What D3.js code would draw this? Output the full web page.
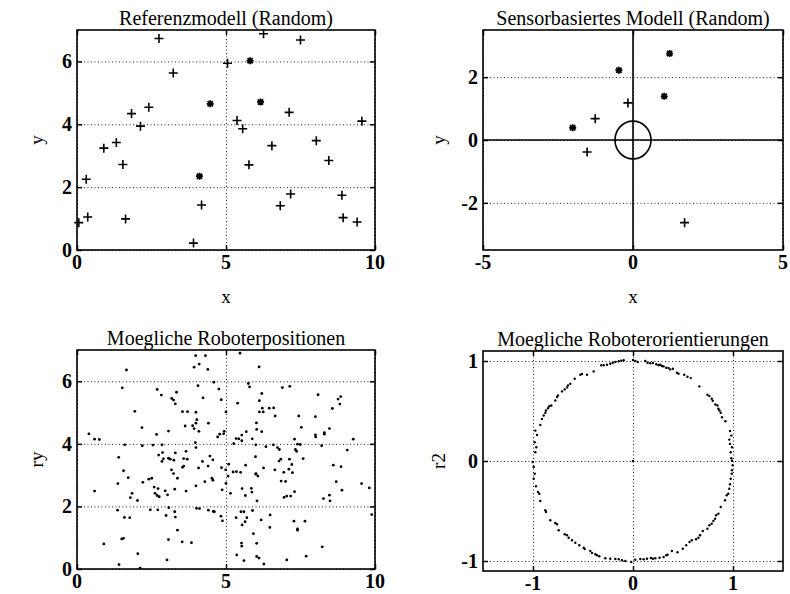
<!DOCTYPE html>
<html>
<head>
<meta charset="utf-8">
<script src="https://cdn.jsdelivr.net/npm/d3@7"></script>
<style>
  body { margin: 0; background: #fff; }
  svg { display: block; font-family: 'Liberation Serif', 'Times New Roman', serif; }
  .tick-label { font-size: 20px; font-weight: bold; }
  .title { font-size: 20px; }
  .axis-label { font-size: 19px; }
</style>
</head>
<body>
<svg id="chart" width="790" height="594"></svg>
<script>
// Referenzmodell: landmarks (+) and matched landmarks (*)
const refPlus = [
  [0.06, 0.87], [0.31, 2.25], [0.36, 1.05], [0.9, 3.24], [1.32, 3.42], [1.54, 2.72],
  [1.63, 0.99], [1.83, 4.34], [2.13, 3.94], [2.41, 4.54], [2.75, 6.73], [3.23, 5.63],
  [3.91, 0.22], [4.18, 1.43], [5.05, 5.94], [5.37, 4.12], [5.56, 3.86], [5.77, 2.71],
  [6.26, 6.88], [6.54, 3.32], [6.82, 1.41], [7.12, 4.38], [7.17, 1.78], [7.5, 6.68],
  [8.03, 3.48], [8.45, 2.85], [8.89, 1.74], [8.93, 1.03], [9.4, 0.89], [9.56, 4.1]
];
const refStar = [[4.11, 2.35], [4.47, 4.65], [5.81, 6.02], [6.16, 4.71]];

// Sensorbasiertes Modell
const sensPlus = [[-0.17, 1.18], [-1.26, 0.68], [-1.53, -0.38], [1.72, -2.63]];
const sensStar = [[1.22, 2.75], [-0.47, 2.22], [1.04, 1.39], [-2.01, 0.39]];
const robotRadius = 0.6;

// Moegliche Roboterpositionen (rx, ry)
const positions = [
  [3.98, 6.82], [4.31, 6.82], [5.47, 6.9], [3.93, 6.45], [4.1, 6.55], [4.39, 6.38],
  [1.66, 6.36], [6.11, 6.46], [1.52, 5.79], [2.69, 5.74], [2.83, 5.56], [3.34, 5.65],
  [3.18, 5.45], [3.24, 5.4], [3.3, 5.28], [4.06, 5.86], [4.59, 5.97], [4.76, 5.75],
  [5.75, 5.93], [5.79, 5.82], [6.89, 5.8], [7.14, 5.84], [4.23, 5.47], [4.84, 5.41],
  [5.39, 5.3], [6.2, 5.61], [6.12, 5.38], [6.22, 5.14], [6.45, 5.14], [6.6, 5.15],
  [6.65, 4.89], [6.12, 5.02], [6.25, 5.02], [1.94, 5.04], [3.54, 5.03], [3.71, 5.03],
  [3.99, 5.01], [5.0, 5.02], [7.44, 4.89], [7.53, 4.53], [8.0, 4.87], [8.09, 5.57],
  [8.57, 5.13], [8.76, 5.43], [8.82, 5.27], [8.85, 5.51], [2.18, 4.52], [2.67, 4.3],
  [3.07, 4.41], [3.63, 4.57], [3.88, 4.58], [3.93, 4.49], [4.02, 4.77], [3.99, 4.66],
  [4.41, 4.66], [4.09, 4.4], [4.92, 4.32], [4.94, 4.4], [4.72, 4.22], [6.02, 4.67],
  [6.03, 4.46], [6.2, 4.39], [5.68, 4.39], [5.43, 4.16], [5.53, 4.1], [5.53, 4.28],
  [5.34, 4.17], [5.88, 4.16], [6.0, 3.97], [6.34, 3.91], [6.73, 3.88], [6.79, 3.82],
  [6.59, 3.97], [7.3, 4.15], [7.4, 3.99], [7.49, 3.98], [7.37, 3.76], [7.33, 3.82],
  [8.0, 4.29], [8.01, 4.22], [8.21, 3.94], [8.3, 4.36], [8.3, 4.31], [8.47, 4.49],
  [9.27, 4.15], [9.07, 3.8], [0.4, 4.32], [0.59, 4.15], [0.75, 4.14], [1.6, 3.97],
  [2.19, 3.94], [2.55, 3.96], [2.85, 3.97], [3.97, 4.04], [3.99, 3.88], [4.79, 4.31],
  [5.26, 4.01], [1.4, 3.57], [1.56, 3.14], [1.72, 2.92], [2.74, 3.64], [2.87, 3.72],
  [2.9, 3.52], [3.07, 3.54], [3.13, 3.51], [3.25, 3.48], [2.85, 3.44], [3.3, 3.71],
  [3.17, 3.17], [3.58, 3.29], [3.54, 3.25], [3.24, 3.05], [3.37, 2.9], [3.66, 3.76],
  [3.58, 3.53], [3.7, 3.51], [4.08, 3.23], [4.21, 3.44], [4.4, 3.29], [4.46, 3.61],
  [4.56, 3.49], [4.53, 2.9], [4.56, 2.84], [4.29, 2.79], [3.99, 2.66], [4.85, 3.24],
  [4.99, 3.17], [5.07, 2.97], [5.09, 3.35], [5.24, 3.1], [5.35, 3.11], [5.49, 3.09],
  [6.01, 3.05], [6.07, 2.97], [6.0, 3.03], [6.26, 3.23], [5.66, 3.32], [5.99, 3.59],
  [6.78, 3.45], [6.84, 3.51], [7.13, 3.51], [7.21, 3.34], [6.64, 3.17], [6.94, 3.09],
  [7.11, 3.19], [7.59, 3.53], [6.85, 2.81], [7.0, 2.8], [7.23, 3.08], [8.6, 3.32],
  [8.86, 3.27], [8.89, 2.52], [8.7, 2.79], [0.9, 0.8], [0.59, 2.49], [1.37, 2.73],
  [1.85, 2.42], [1.79, 2.28], [2.21, 2.77], [2.41, 2.87], [2.51, 2.9], [2.59, 2.62],
  [2.62, 2.42], [2.72, 2.57], [2.69, 2.35], [2.76, 2.31], [2.96, 2.5], [3.28, 2.55],
  [3.04, 2.37], [3.66, 2.49], [2.03, 2.19], [4.87, 2.53], [5.0, 2.74], [5.15, 2.42],
  [5.54, 2.57], [5.85, 2.58], [5.87, 2.46], [6.04, 2.18], [5.65, 2.35], [6.95, 2.29],
  [7.04, 2.33], [7.17, 2.33], [7.3, 2.47], [8.27, 2.25], [8.49, 2.18], [8.47, 2.36],
  [9.55, 2.73], [9.81, 2.59], [9.89, 1.74], [1.36, 1.88], [1.59, 1.65], [1.77, 1.64],
  [1.5, 0.96], [1.56, 0.98], [2.04, 0.49], [1.41, 0.14], [2.12, 0.03], [2.46, 1.89],
  [2.71, 1.89], [2.99, 1.71], [3.08, 1.96], [3.28, 1.83], [3.3, 1.66], [3.37, 1.24],
  [3.07, 0.94], [3.53, 0.87], [3.84, 0.84], [3.02, 0.29], [4.01, 1.94], [4.11, 1.93],
  [4.41, 1.88], [4.57, 1.84], [4.61, 1.83], [4.83, 1.69], [4.88, 1.54], [5.34, 1.64],
  [5.5, 1.83], [5.6, 1.83], [5.64, 1.51], [5.7, 1.64], [5.54, 1.41], [5.89, 1.87],
  [6.18, 1.57], [6.48, 1.73], [6.47, 1.33], [5.92, 1.13], [6.03, 0.82], [5.52, 0.83],
  [5.53, 0.73], [5.36, 0.45], [5.6, 0.27], [6.03, 0.4], [6.11, 0.35], [6.27, 0.16],
  [7.04, 0.29], [7.28, 1.53], [7.4, 1.28], [7.4, 1.24], [7.65, 1.53], [7.69, 0.41],
  [8.23, 0.71]
];

// Moegliche Roboterorientierungen (r1, r2)
const orientations = [
  [0, 0],
  [0, 1.01], [0.023, 1.0], [0.047, 0.99], [0.123, 1.0], [0.146, 0.983], [0.173, 0.977],
  [0.2, 0.98], [0.233, 0.967], [0.256, 0.957], [0.272, 0.963], [0.289, 0.95], [0.306, 0.946],
  [0.332, 0.933], [0.355, 0.93], [0.372, 0.916], [0.399, 0.923], [0.439, 0.883], [0.455, 0.873],
  [0.512, 0.863], [0.545, 0.843], [0.578, 0.829], [0.664, 0.746], [0.744, 0.662], [0.764, 0.649],
  [0.787, 0.622], [0.797, 0.602], [0.824, 0.565], [0.844, 0.555], [0.854, 0.522], [0.864, 0.505],
  [0.877, 0.482], [0.89, 0.438], [0.924, 0.398], [0.97, 0.301], [0.983, 0.254], [0.963, 0.214],
  [0.97, 0.171], [0.99, 0.137], [0.977, 0.087], [0.983, 0.027], [0.99, 0.003],
  [-0.977, 0.087], [-0.967, 0.137], [-0.983, 0.187], [-0.96, 0.261], [-0.977, 0.304],
  [-0.927, 0.361], [-0.91, 0.421], [-0.893, 0.455], [-0.877, 0.482], [-0.87, 0.505],
  [-0.85, 0.528], [-0.837, 0.548], [-0.817, 0.555], [-0.777, 0.605], [-0.76, 0.639],
  [-0.75, 0.656], [-0.71, 0.696], [-0.683, 0.716], [-0.66, 0.736], [-0.65, 0.756],
  [-0.627, 0.773], [-0.583, 0.823], [-0.527, 0.863], [-0.51, 0.87], [-0.46, 0.863],
  [-0.393, 0.896], [-0.317, 0.957], [-0.293, 0.957], [-0.26, 0.963], [-0.227, 0.973],
  [-0.203, 0.983], [-0.177, 0.99], [-0.143, 0.997], [-0.117, 1.003], [-0.093, 1.007],
  [-1.003, -0.01], [-0.993, -0.06], [-0.983, -0.127], [-0.993, -0.177], [-0.97, -0.253],
  [-0.95, -0.31], [-0.937, -0.327], [-0.927, -0.4], [-0.877, -0.493], [-0.87, -0.51],
  [-0.827, -0.593], [-0.777, -0.62], [-0.76, -0.633], [-0.743, -0.693], [-0.683, -0.733],
  [-0.66, -0.743], [-0.643, -0.767], [-0.61, -0.793], [-0.577, -0.817], [-0.537, -0.843],
  [-0.493, -0.867], [-0.483, -0.88], [-0.427, -0.9], [-0.41, -0.92], [-0.377, -0.933],
  [-0.36, -0.943], [-0.337, -0.953], [-0.277, -0.973], [-0.227, -0.977], [-0.177, -0.98],
  [-0.143, -0.983], [-0.11, -0.993], [-0.077, -1.0], [-0.017, -1.01],
  [0.023, -0.987], [0.073, -0.98], [0.106, -0.983], [0.14, -0.977], [0.179, -0.97],
  [0.199, -0.977], [0.223, -0.973], [0.266, -0.967], [0.306, -0.96], [0.332, -0.943],
  [0.346, -0.937], [0.389, -0.9], [0.445, -0.913], [0.498, -0.877], [0.532, -0.843],
  [0.565, -0.81], [0.588, -0.793], [0.631, -0.783], [0.654, -0.767], [0.671, -0.743],
  [0.698, -0.7], [0.744, -0.677], [0.764, -0.643], [0.787, -0.627], [0.804, -0.6],
  [0.821, -0.577], [0.831, -0.543], [0.854, -0.527], [0.877, -0.46], [0.92, -0.393],
  [0.937, -0.343], [0.953, -0.327], [0.963, -0.277], [0.97, -0.233], [0.977, -0.177],
  [0.987, -0.127], [0.99, -0.093], [0.997, -0.043]
];

// Tick values
const ticksX0to10 = [0, 5, 10];
const ticksY0to7 = [0, 2, 4, 6];
const ticksXsens = [-5, 0, 5];
const ticksYsens = [-2, 0, 2];
const ticksOrient = [-1, 0, 1];

const svg = d3.select('#chart');

function panel({ left, top, width, height, xDomain, yDomain, xTicks, yTicks, title, xLabel, yLabel, yLabelX }) {
  const g = svg.append('g').attr('transform', `translate(${left}, ${top})`);
  const x = d3.scaleLinear().domain(xDomain).range([0, width]);
  const y = d3.scaleLinear().domain(yDomain).range([height, 0]);

  // dotted grid
  const gridX = d3.axisBottom(x).tickValues(xTicks).tickSize(-height).tickFormat('');
  const gridY = d3.axisLeft(y).tickValues(yTicks).tickSize(-width).tickFormat('');
  g.append('g').attr('transform', `translate(0, ${height})`).call(gridX)
    .call(s => s.select('.domain').remove())
    .selectAll('line').attr('stroke', '#222').attr('stroke-dasharray', '1,2.5');
  g.append('g').call(gridY)
    .call(s => s.select('.domain').remove())
    .selectAll('line').attr('stroke', '#222').attr('stroke-dasharray', '1,2.5');

  // inward ticks on all four sides
  const tl = 5;
  const tickSides = [
    [d3.axisBottom(x).tickValues(xTicks).tickSize(-tl), `translate(0, ${height})`],
    [d3.axisTop(x).tickValues(xTicks).tickSize(-tl), 'translate(0, 0)'],
    [d3.axisLeft(y).tickValues(yTicks).tickSize(-tl), 'translate(0, 0)'],
    [d3.axisRight(y).tickValues(yTicks).tickSize(-tl), `translate(${width}, 0)`]
  ];
  tickSides.forEach(([ax, tr]) => {
    g.append('g').attr('transform', tr).call(ax.tickFormat(''))
      .call(s => s.select('.domain').remove())
      .selectAll('line').attr('stroke', '#000').attr('stroke-width', 1.5);
  });

  // tick labels
  g.selectAll('.xl').data(xTicks).enter().append('text')
    .attr('class', 'tick-label')
    .attr('x', d => x(d)).attr('y', height + 19)
    .attr('text-anchor', 'middle')
    .text(d => d);
  g.selectAll('.yl').data(yTicks).enter().append('text')
    .attr('class', 'tick-label')
    .attr('x', -5).attr('y', d => y(d)).attr('dy', '0.35em')
    .attr('text-anchor', 'end')
    .text(d => d);

  // frame
  g.append('rect')
    .attr('width', width).attr('height', height)
    .attr('fill', 'none').attr('stroke', '#000').attr('stroke-width', 1.6);

  g.append('text').attr('class', 'title')
    .attr('x', width / 2).attr('y', -5)
    .attr('text-anchor', 'middle').text(title);
  if (xLabel) {
    g.append('text').attr('class', 'axis-label')
      .attr('x', width / 2).attr('y', height + 53)
      .attr('text-anchor', 'middle').text(xLabel);
  }
  svg.append('text').attr('class', 'axis-label')
    .attr('transform', `translate(${yLabelX}, ${top + height / 2}) rotate(-90)`)
    .attr('text-anchor', 'middle').text(yLabel);

  return { g, x, y };
}

function plusMarks(p, data, size) {
  p.g.append('g').selectAll('path').data(data).enter().append('path')
    .attr('d', d => {
      const cx = p.x(d[0]), cy = p.y(d[1]);
      return `M${cx - size},${cy}H${cx + size}M${cx},${cy - size}V${cy + size}`;
    })
    .attr('stroke', '#000').attr('stroke-width', 1.6);
}

function starMarks(p, data, size) {
  p.g.append('g').selectAll('path').data(data).enter().append('path')
    .attr('d', d => {
      const cx = p.x(d[0]), cy = p.y(d[1]), s = size * 0.75;
      return `M${cx - size},${cy}H${cx + size}M${cx},${cy - size}V${cy + size}` +
        `M${cx - s},${cy - s}L${cx + s},${cy + s}M${cx - s},${cy + s}L${cx + s},${cy - s}`;
    })
    .attr('stroke', '#000').attr('stroke-width', 1.8);
}

function dots(p, data, r) {
  p.g.append('g').selectAll('circle').data(data).enter().append('circle')
    .attr('cx', d => p.x(d[0])).attr('cy', d => p.y(d[1]))
    .attr('r', r).attr('fill', '#000');
}

// Panel 1
const p1 = panel({
  left: 77, top: 30, width: 298, height: 220,
  xDomain: [0, 10], yDomain: [0, 7], xTicks: ticksX0to10, yTicks: ticksY0to7,
  title: 'Referenzmodell (Random)', xLabel: 'x', yLabel: 'y', yLabelX: 43
});
plusMarks(p1, refPlus, 4.5);
starMarks(p1, refStar, 3.5);

// Panel 2
const p2 = panel({
  left: 483, top: 30, width: 300, height: 220,
  xDomain: [-5, 5], yDomain: [-3.5, 3.5], xTicks: ticksXsens, yTicks: ticksYsens,
  title: 'Sensorbasiertes Modell (Random)', xLabel: 'x', yLabel: 'y', yLabelX: 445
});
p2.g.append('line')
  .attr('x1', 0).attr('x2', 300).attr('y1', p2.y(0)).attr('y2', p2.y(0))
  .attr('stroke', '#000').attr('stroke-width', 1.6);
p2.g.append('line')
  .attr('x1', p2.x(0)).attr('x2', p2.x(0)).attr('y1', 0).attr('y2', 220)
  .attr('stroke', '#000').attr('stroke-width', 1.6);
p2.g.append('ellipse')
  .attr('cx', p2.x(0)).attr('cy', p2.y(0))
  .attr('rx', p2.x(robotRadius) - p2.x(0)).attr('ry', p2.y(0) - p2.y(robotRadius))
  .attr('fill', 'none').attr('stroke', '#000').attr('stroke-width', 1.6);
plusMarks(p2, sensPlus, 4.5);
starMarks(p2, sensStar, 3.5);

// Panel 3
const p3 = panel({
  left: 77, top: 350, width: 298, height: 219,
  xDomain: [0, 10], yDomain: [0, 7], xTicks: ticksX0to10, yTicks: ticksY0to7,
  title: 'Moegliche Roboterpositionen', yLabel: 'ry', yLabelX: 43
});
dots(p3, positions, 1.4);

// Panel 4
const p4 = panel({
  left: 483, top: 351, width: 300, height: 220,
  xDomain: [-1.5, 1.5], yDomain: [-1.1, 1.1], xTicks: ticksOrient, yTicks: ticksOrient,
  title: 'Moegliche Roboterorientierungen', yLabel: 'r2', yLabelX: 445
});
dots(p4, orientations, 1.2);
</script>
</body>
</html>
